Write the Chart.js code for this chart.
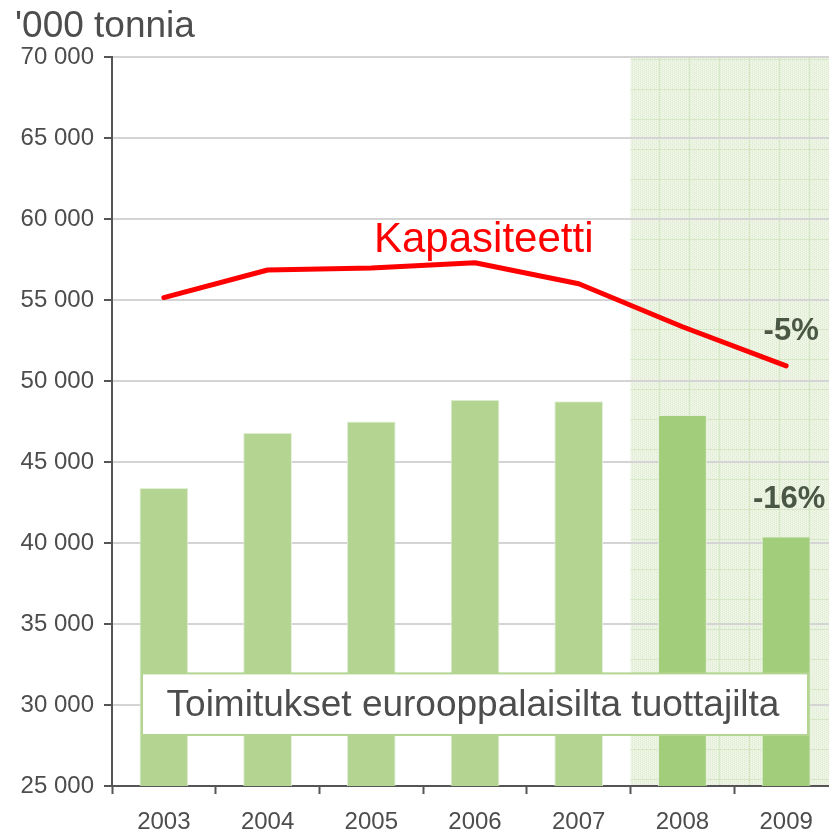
<!DOCTYPE html>
<html>
<head>
<meta charset="utf-8">
<script src="https://cdn.jsdelivr.net/npm/chart.js@4/dist/chart.umd.min.js"></script>
<style>
  body { margin: 0; overflow: hidden; background: #fff; }
</style>
</head>
<body>
<canvas id="graph" width="839" height="833"></canvas>
<script>
// values
const years = ['2003', '2004', '2005', '2006', '2007', '2008', '2009'];
const deliveries = [43400, 46800, 47500, 48850, 48750, 47900, 40400];
const capacity = [55150, 56850, 56980, 57300, 56000, 53350, 50930];
const yTicks = [25000, 30000, 35000, 40000, 45000, 50000, 55000, 60000, 65000, 70000];
const changeCapacity = '-5%';
const changeDeliveries = '-16%';

const FONT = 'Arial, "Liberation Sans", sans-serif';
const lightGreen = '#b3d591';
const darkGreen = '#a2cd7b';

// 2008 and 2009 are forecast years, shaded
const barColors = years.map((y) => (y >= '2008' ? darkGreen : lightGreen));

let makePattern = (ctx) => {
    const c = document.createElement('canvas');
    c.width = 30;
    c.height = 30;
    const p = c.getContext('2d');
    p.fillStyle = '#eef5e6';
    p.fillRect(0, 0, 30, 30);
    p.fillStyle = '#dcebcd';
    for (let i = 0; i < 30; i += 2) {
        for (let j = (i / 2) % 2; j < 30; j += 2) {
            p.fillRect(i, j, 1, 1);
        }
    }
    p.fillStyle = '#d5e7c4';
    p.fillRect(29, 0, 1, 30);
    p.fillRect(0, 29, 30, 1);
    return ctx.createPattern(c, 'repeat');
};

const fmt = (v) => String(v).replace(/\B(?=(\d{3})+(?!\d))/g, ' ');

const shadePlugin = {
    id: 'shade',
    beforeDraw(chart) {
        const { ctx, chartArea, scales } = chart;
        const x0 = (scales.x.getPixelForValue(4) + scales.x.getPixelForValue(5)) / 2;
        ctx.save();
        ctx.fillStyle = makePattern(ctx);
        ctx.fillRect(x0, chartArea.top, chartArea.right - x0, chartArea.bottom - chartArea.top);
        ctx.restore();
    }
};

const labelPlugin = {
    id: 'labels',
    afterDraw(chart) {
        const { ctx, chartArea, scales } = chart;
        const x = scales.x, y = scales.y;
        ctx.save();

        // title of the value axis
        ctx.fillStyle = '#4d4d4d';
        ctx.font = '37px ' + FONT;
        ctx.textAlign = 'left';
        ctx.textBaseline = 'alphabetic';
        ctx.fillText("'000 tonnia", 15, 37);

        // box naming the bars
        const top = y.getPixelForValue(31950);
        const bottom = y.getPixelForValue(28150);
        const left = chartArea.left + 30;
        const right = 808;
        ctx.fillStyle = '#fff';
        ctx.fillRect(left, top, right - left, bottom - top);
        ctx.strokeStyle = lightGreen;
        ctx.lineWidth = 2;
        ctx.strokeRect(left, top, right - left, bottom - top);
        ctx.fillStyle = '#4d4d4d';
        ctx.font = '37px ' + FONT;
        ctx.textAlign = 'center';
        ctx.fillText('Toimitukset eurooppalaisilta tuottajilta', 473, 716);

        // line name
        ctx.fillStyle = '#ff0000';
        ctx.font = '42px ' + FONT;
        ctx.textAlign = 'left';
        ctx.fillText('Kapasiteetti', 374, 252);

        // changes
        ctx.fillStyle = '#4b5745';
        ctx.font = 'bold 31px ' + FONT;
        ctx.textAlign = 'center';
        ctx.fillText(changeCapacity, x.getPixelForValue(6) + 5, 340);
        ctx.fillText(changeDeliveries, x.getPixelForValue(6) + 3, 508);
        ctx.restore();
    }
};

document.addEventListener('DOMContentLoaded', function () {
    const graph = document.querySelector('#graph').getContext('2d');

    new Chart(graph, {
        type: 'bar',
        data: {
            labels: years,
            datasets: [
                {
                    type: 'line',
                    label: 'Kapasiteetti',
                    data: capacity,
                    borderColor: '#ff0000',
                    borderWidth: 5,
                    borderCapStyle: 'round',
                    borderJoinStyle: 'round',
                    pointRadius: 0,
                    tension: 0,
                    order: 0
                },
                {
                    label: 'Toimitukset',
                    data: deliveries,
                    backgroundColor: barColors,
                    borderColor: '#e4efd8',
                    borderWidth: 1,
                    barPercentage: 0.47,
                    categoryPercentage: 1,
                    order: 1
                }
            ]
        },
        options: {
            responsive: false,
            animation: false,
            layout: { padding: { top: 57, right: 1, left: 0, bottom: 0 } },
            plugins: {
                legend: { display: false },
                tooltip: { enabled: false }
            },
            scales: {
                x: {
                    offset: true,
                    grid: {
                        offset: true,
                        drawOnChartArea: false,
                        tickLength: 8,
                        tickColor: '#555',
                        tickWidth: 2
                    },
                    border: { color: '#555', width: 2 },
                    ticks: {
                        color: '#4d4d4d',
                        font: { family: FONT, size: 24 },
                        padding: 14
                    },
                    afterFit: (scale) => { scale.height = 47; }
                },
                y: {
                    min: yTicks[0],
                    max: yTicks[yTicks.length - 1],
                    afterBuildTicks: (scale) => {
                        scale.ticks = yTicks.map((v) => ({ value: v }));
                    },
                    grid: {
                        color: '#d4d4d4',
                        lineWidth: 2,
                        tickLength: 8,
                        tickColor: '#555',
                        tickWidth: 2
                    },
                    border: { color: '#555', width: 2 },
                    ticks: {
                        color: '#4d4d4d',
                        font: { family: FONT, size: 24 },
                        padding: 10,
                        callback: (v) => fmt(v)
                    },
                    afterFit: (scale) => { scale.width = 112; }
                }
            }
        },
        plugins: [shadePlugin, labelPlugin]
    });
});
</script>
</body>
</html>
